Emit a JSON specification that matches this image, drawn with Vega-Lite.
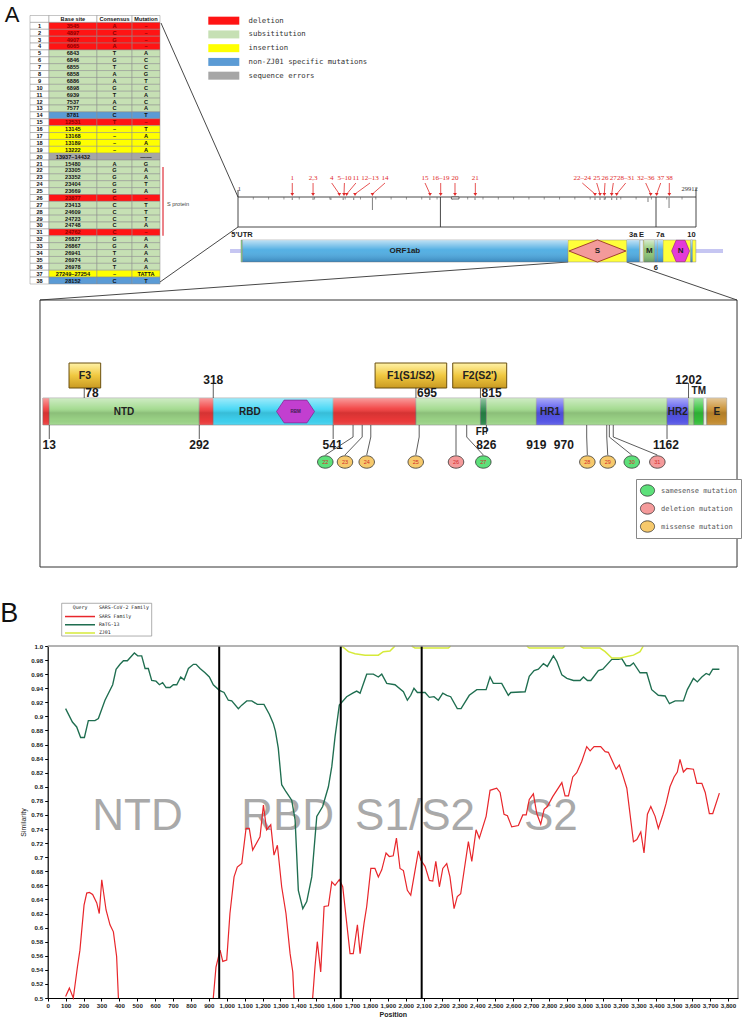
{
"$schema": "https://vega.github.io/schema/vega-lite/v6.json",
"width": 750, "height": 1021, "autosize": {"type": "none"}, "padding": 0, "background": "white",
"config": {"view": {"stroke": null}, "axis": {"grid": false}},
"datasets": {
"tbl": [
{"row":0,"no":"","site":"Base site","cons":"Consensus","mut":"Mutation","kind":"header"},
{"row":1,"no":"1","site":"3545","cons":"A","mut":"–","kind":"deletion"},
{"row":2,"no":"2","site":"4897","cons":"C","mut":"–","kind":"deletion"},
{"row":3,"no":"3","site":"4907","cons":"G","mut":"–","kind":"deletion"},
{"row":4,"no":"4","site":"6065","cons":"A","mut":"–","kind":"deletion"},
{"row":5,"no":"5","site":"6843","cons":"T","mut":"A","kind":"subsititution"},
{"row":6,"no":"6","site":"6846","cons":"G","mut":"C","kind":"subsititution"},
{"row":7,"no":"7","site":"6855","cons":"T","mut":"C","kind":"subsititution"},
{"row":8,"no":"8","site":"6858","cons":"A","mut":"G","kind":"subsititution"},
{"row":9,"no":"9","site":"6886","cons":"A","mut":"T","kind":"subsititution"},
{"row":10,"no":"10","site":"6898","cons":"G","mut":"C","kind":"subsititution"},
{"row":11,"no":"11","site":"6939","cons":"T","mut":"A","kind":"subsititution"},
{"row":12,"no":"12","site":"7537","cons":"A","mut":"C","kind":"subsititution"},
{"row":13,"no":"13","site":"7577","cons":"C","mut":"A","kind":"subsititution"},
{"row":14,"no":"14","site":"8781","cons":"C","mut":"T","kind":"non-ZJ01 specific mutations"},
{"row":15,"no":"15","site":"12531","cons":"T","mut":"–","kind":"deletion"},
{"row":16,"no":"16","site":"13145","cons":"–","mut":"T","kind":"insertion"},
{"row":17,"no":"17","site":"13168","cons":"–","mut":"A","kind":"insertion"},
{"row":18,"no":"18","site":"13189","cons":"–","mut":"A","kind":"insertion"},
{"row":19,"no":"19","site":"13222","cons":"–","mut":"A","kind":"insertion"},
{"row":20,"no":"20","site":"13937–14432","cons":"","mut":"——","kind":"sequence errors"},
{"row":21,"no":"21","site":"15480","cons":"A","mut":"G","kind":"subsititution"},
{"row":22,"no":"22","site":"23305","cons":"G","mut":"A","kind":"subsititution"},
{"row":23,"no":"23","site":"23352","cons":"G","mut":"A","kind":"subsititution"},
{"row":24,"no":"24","site":"23404","cons":"G","mut":"T","kind":"subsititution"},
{"row":25,"no":"25","site":"23669","cons":"G","mut":"A","kind":"subsititution"},
{"row":26,"no":"26","site":"23877","cons":"C","mut":"–","kind":"deletion"},
{"row":27,"no":"27","site":"23413","cons":"C","mut":"T","kind":"subsititution"},
{"row":28,"no":"28","site":"24609","cons":"C","mut":"T","kind":"subsititution"},
{"row":29,"no":"29","site":"24723","cons":"C","mut":"T","kind":"subsititution"},
{"row":30,"no":"30","site":"24748","cons":"C","mut":"A","kind":"subsititution"},
{"row":31,"no":"31","site":"24762","cons":"C","mut":"–","kind":"deletion"},
{"row":32,"no":"32","site":"26827","cons":"G","mut":"A","kind":"subsititution"},
{"row":33,"no":"33","site":"26867","cons":"G","mut":"A","kind":"subsititution"},
{"row":34,"no":"34","site":"26941","cons":"T","mut":"A","kind":"subsititution"},
{"row":35,"no":"35","site":"26974","cons":"G","mut":"A","kind":"subsititution"},
{"row":36,"no":"36","site":"26978","cons":"T","mut":"A","kind":"subsititution"},
{"row":37,"no":"37","site":"27249–27254","cons":"–","mut":"TATTA","kind":"insertion"},
{"row":38,"no":"38","site":"28152","cons":"C","mut":"T","kind":"non-ZJ01 specific mutations"}
],
"legA": [{"kind":"deletion"},{"kind":"subsititution"},{"kind":"insertion"},{"kind":"non-ZJ01 specific mutations"},{"kind":"sequence errors"}],
"gLines": [
{"x":-5029,"y":247,"x2":0,"y2":73},{"x":-5094,"y":-12,"x2":0,"y2":43},
{"x":21563,"y":8,"x2":-12931,"y2":-30},{"x":25384,"y":8,"x2":32590,"y2":-30},
{"x":0,"y":73,"x2":29912,"y2":73},{"x":0,"y":43,"x2":29912,"y2":43},
{"x":0,"y":80,"x2":0,"y2":43},{"x":29912,"y":82,"x2":29912,"y2":43},
{"x":13220,"y":73,"x2":13220,"y2":43},{"x":27300,"y":73,"x2":27300,"y2":43}],
"gTicks": [{"t":1000},{"t":2000},{"t":3000},{"t":4000},{"t":5000},{"t":6000},{"t":7000},{"t":8000},{"t":9000},{"t":10000},{"t":11000},{"t":12000},{"t":13000},{"t":14000},{"t":15000},{"t":16000},{"t":17000},{"t":18000},{"t":19000},{"t":20000},{"t":21000},{"t":22000},{"t":23000},{"t":24000},{"t":25000},{"t":26000},{"t":27000},{"t":28000},{"t":29000}],
"gMarks": [{"x":8781,"lo":60},{"x":28152,"lo":62},{"x":3545,"lo":70},{"x":4902,"lo":70},{"x":6065,"lo":70},{"x":6870,"lo":70},{"x":7557,"lo":70},{"x":12531,"lo":70},{"x":15480,"lo":70},{"x":23316,"lo":70},{"x":23642,"lo":70},{"x":23923,"lo":70},{"x":24406,"lo":70},{"x":24733,"lo":70},{"x":26777,"lo":68}],
"gArr": [{"lab":"1","at":3545,"to":3545},{"lab":"2,3","at":4902,"to":4902},{"lab":"4","at":6120,"to":6616},{"lab":"5–10","at":6950,"to":6923},{"lab":"11","at":7700,"to":7099},{"lab":"12–13","at":8620,"to":7641},{"lab":"14","at":9600,"to":8781},{"lab":"15","at":12213,"to":12540},{"lab":"16–19","at":13238,"to":13238},{"lab":"20","at":14172,"to":14172},{"lab":"21","at":15500,"to":15500},{"lab":"22–24","at":22486,"to":23316},{"lab":"25","at":23427,"to":23642},{"lab":"26","at":23969,"to":23923},{"lab":"27","at":24511,"to":24406},{"lab":"28–31","at":25321,"to":24733},{"lab":"32–36","at":26627,"to":26953},{"lab":"37","at":27606,"to":27345},{"lab":"38","at":28169,"to":28169}],
"gEnds": [{"lab":"1","x":90},{"lab":"29912","x":29500}],
"genes": [
{"gene":"5'UTR","start":196,"end":300,"style":"utr"},
{"gene":"ORF1ab","start":300,"end":21555,"style":"blue"},
{"gene":"S-N region","start":21555,"end":29903,"style":"yellow"},
{"gene":"ORF3a","start":25393,"end":26220,"style":"blue"},
{"gene":"E","start":26245,"end":26472,"style":"white"},
{"gene":"M","start":26523,"end":27191,"style":"green"},
{"gene":"ORF6","start":27202,"end":27387,"style":"blue"},
{"gene":"ORF7a","start":27394,"end":27759,"style":"blue"},
{"gene":"ORF10","start":29558,"end":29674,"style":"blue"}],
"gLabs": [{"lab":"ORF1ab","x":10900,"pos":"in"},{"lab":"S","x":23474,"pos":"in"},{"lab":"M","x":26857,"pos":"in"},{"lab":"N","x":28904,"pos":"in"},{"lab":"5'UTR","x":261,"pos":"above"},{"lab":"3a","x":25806,"pos":"above"},{"lab":"E","x":26358,"pos":"above"},{"lab":"7a","x":27577,"pos":"above"},{"lab":"10","x":29616,"pos":"above"},{"lab":"6","x":27295,"pos":"below"}],
"sReg": [
{"region":"SP","start":1,"end":13},{"region":"NTD","start":13,"end":292},{"region":"L1","start":292,"end":318},{"region":"RBD","start":318,"end":541},{"region":"SD","start":541,"end":695},{"region":"S2a","start":695,"end":815},{"region":"FP","start":815,"end":826},{"region":"S2b","start":826,"end":919},{"region":"HR1","start":919,"end":970},{"region":"CH","start":970,"end":1162},{"region":"HR2","start":1162,"end":1202},{"region":"L2","start":1202,"end":1212},{"region":"TM","start":1212,"end":1230},{"region":"L3","start":1230,"end":1236},{"region":"E","start":1236,"end":1273}],
"sDomLab": [{"lab":"NTD","aa":152},{"lab":"RBD","aa":386},{"lab":"HR1","aa":944.5},{"lab":"HR2","aa":1182},{"lab":"E","aa":1254.5}],
"fBox": [{"name":"F3","start":49.7,"end":108.6,"mid":79.2},{"name":"F1(S1/S2)","start":619,"end":752.2,"mid":685.6},{"name":"F2(S2')","start":763.4,"end":863.8,"mid":813.6}],
"sTicks": [{"aa":78,"dir":"upF"},{"aa":318,"dir":"up"},{"aa":695,"dir":"upF"},{"aa":815,"dir":"upF"},{"aa":1202,"dir":"up"},{"aa":13,"dir":"down"},{"aa":292,"dir":"down"},{"aa":541,"dir":"down"},{"aa":826,"dir":"downS"},{"aa":1162,"dir":"down"}],
"sNums": [{"txt":"318","aa":318,"where":"above"},{"txt":"1202","aa":1202,"where":"above"},{"txt":"78","aa":80,"where":"aboveLeft"},{"txt":"695","aa":697,"where":"aboveLeft"},{"txt":"815","aa":817,"where":"aboveLeft"},{"txt":"13","aa":13,"where":"below"},{"txt":"292","aa":292,"where":"below"},{"txt":"541","aa":540,"where":"below"},{"txt":"826","aa":826,"where":"below"},{"txt":"919","aa":919,"where":"below"},{"txt":"970","aa":970,"where":"below"},{"txt":"1162","aa":1160,"where":"below"}],
"sMut": [{"id":"22","site":578,"circ":526.4,"type":"samesense mutation"},{"id":"23","site":595,"circ":563,"type":"missense mutation"},{"id":"24","site":611,"circ":603.4,"type":"missense mutation"},{"id":"25","site":701,"circ":694.6,"type":"missense mutation"},{"id":"26","site":769.5,"circ":769.5,"type":"deletion mutation"},{"id":"27","site":789.4,"circ":820.3,"type":"samesense mutation"},{"id":"28","site":1012.6,"circ":1013.8,"type":"missense mutation"},{"id":"29","site":1049.9,"circ":1051.7,"type":"missense mutation"},{"id":"30","site":1054.7,"circ":1096.4,"type":"samesense mutation"},{"id":"31","site":1062,"circ":1144,"type":"deletion mutation"}],
"bLabs": [{"lab":"NTD","pos":502},{"lab":"RBD","pos":1340},{"lab":"S1/S2","pos":2052},{"lab":"S2","pos":2811}],
"bDiv": [{"pos":958},{"pos":1637},{"pos":2089}],
"bLeg": [{"series":"SARS Family","k":1},{"series":"RaTG-13","k":2},{"series":"ZJ01","k":3}],
"simB": [
{"series":"RaTG-13","seg":"g","pos":100,"sim":0.911},{"series":"RaTG-13","seg":"g","pos":138,"sim":0.892},{"series":"RaTG-13","seg":"g","pos":162,"sim":0.885},{"series":"RaTG-13","seg":"g","pos":184,"sim":0.870},{"series":"RaTG-13","seg":"g","pos":205,"sim":0.870},{"series":"RaTG-13","seg":"g","pos":227,"sim":0.894},{"series":"RaTG-13","seg":"g","pos":264,"sim":0.894},{"series":"RaTG-13","seg":"g","pos":283,"sim":0.897},{"series":"RaTG-13","seg":"g","pos":320,"sim":0.923},{"series":"RaTG-13","seg":"g","pos":363,"sim":0.945},{"series":"RaTG-13","seg":"g","pos":382,"sim":0.967},{"series":"RaTG-13","seg":"g","pos":404,"sim":0.974},{"series":"RaTG-13","seg":"g","pos":423,"sim":0.979},{"series":"RaTG-13","seg":"g","pos":445,"sim":0.979},{"series":"RaTG-13","seg":"g","pos":484,"sim":0.990},{"series":"RaTG-13","seg":"g","pos":503,"sim":0.986},{"series":"RaTG-13","seg":"g","pos":525,"sim":0.986},{"series":"RaTG-13","seg":"g","pos":544,"sim":0.968},{"series":"RaTG-13","seg":"g","pos":562,"sim":0.968},{"series":"RaTG-13","seg":"g","pos":581,"sim":0.951},{"series":"RaTG-13","seg":"g","pos":605,"sim":0.950},{"series":"RaTG-13","seg":"g","pos":624,"sim":0.945},{"series":"RaTG-13","seg":"g","pos":642,"sim":0.948},{"series":"RaTG-13","seg":"g","pos":661,"sim":0.941},{"series":"RaTG-13","seg":"g","pos":683,"sim":0.941},{"series":"RaTG-13","seg":"g","pos":702,"sim":0.945},{"series":"RaTG-13","seg":"g","pos":721,"sim":0.945},{"series":"RaTG-13","seg":"g","pos":743,"sim":0.956},{"series":"RaTG-13","seg":"g","pos":762,"sim":0.952},{"series":"RaTG-13","seg":"g","pos":786,"sim":0.968},{"series":"RaTG-13","seg":"g","pos":814,"sim":0.974},{"series":"RaTG-13","seg":"g","pos":829,"sim":0.974},{"series":"RaTG-13","seg":"g","pos":851,"sim":0.968},{"series":"RaTG-13","seg":"g","pos":879,"sim":0.962},{"series":"RaTG-13","seg":"g","pos":903,"sim":0.956},{"series":"RaTG-13","seg":"g","pos":925,"sim":0.945},{"series":"RaTG-13","seg":"g","pos":959,"sim":0.937},{"series":"RaTG-13","seg":"g","pos":985,"sim":0.934},{"series":"RaTG-13","seg":"g","pos":1009,"sim":0.923},{"series":"RaTG-13","seg":"g","pos":1028,"sim":0.922},{"series":"RaTG-13","seg":"g","pos":1065,"sim":0.911},{"series":"RaTG-13","seg":"g","pos":1084,"sim":0.916},{"series":"RaTG-13","seg":"g","pos":1112,"sim":0.922},{"series":"RaTG-13","seg":"g","pos":1140,"sim":0.922},{"series":"RaTG-13","seg":"g","pos":1171,"sim":0.917},{"series":"RaTG-13","seg":"g","pos":1208,"sim":0.917},{"series":"RaTG-13","seg":"g","pos":1238,"sim":0.903},{"series":"RaTG-13","seg":"g","pos":1260,"sim":0.890},{"series":"RaTG-13","seg":"g","pos":1272,"sim":0.879},{"series":"RaTG-13","seg":"g","pos":1288,"sim":0.855},{"series":"RaTG-13","seg":"g","pos":1307,"sim":0.803},{"series":"RaTG-13","seg":"g","pos":1331,"sim":0.793},{"series":"RaTG-13","seg":"g","pos":1363,"sim":0.781},{"series":"RaTG-13","seg":"g","pos":1382,"sim":0.753},{"series":"RaTG-13","seg":"g","pos":1400,"sim":0.653},{"series":"RaTG-13","seg":"g","pos":1425,"sim":0.627},{"series":"RaTG-13","seg":"g","pos":1447,"sim":0.637},{"series":"RaTG-13","seg":"g","pos":1475,"sim":0.672},{"series":"RaTG-13","seg":"g","pos":1503,"sim":0.758},{"series":"RaTG-13","seg":"g","pos":1536,"sim":0.772},{"series":"RaTG-13","seg":"g","pos":1568,"sim":0.800},{"series":"RaTG-13","seg":"g","pos":1587,"sim":0.829},{"series":"RaTG-13","seg":"g","pos":1605,"sim":0.871},{"series":"RaTG-13","seg":"g","pos":1629,"sim":0.916},{"series":"RaTG-13","seg":"g","pos":1670,"sim":0.928},{"series":"RaTG-13","seg":"g","pos":1704,"sim":0.933},{"series":"RaTG-13","seg":"g","pos":1726,"sim":0.936},{"series":"RaTG-13","seg":"g","pos":1745,"sim":0.933},{"series":"RaTG-13","seg":"g","pos":1782,"sim":0.960},{"series":"RaTG-13","seg":"g","pos":1819,"sim":0.960},{"series":"RaTG-13","seg":"g","pos":1847,"sim":0.956},{"series":"RaTG-13","seg":"g","pos":1866,"sim":0.960},{"series":"RaTG-13","seg":"g","pos":1894,"sim":0.947},{"series":"RaTG-13","seg":"g","pos":1940,"sim":0.945},{"series":"RaTG-13","seg":"g","pos":1987,"sim":0.935},{"series":"RaTG-13","seg":"g","pos":2009,"sim":0.923},{"series":"RaTG-13","seg":"g","pos":2028,"sim":0.930},{"series":"RaTG-13","seg":"g","pos":2046,"sim":0.940},{"series":"RaTG-13","seg":"g","pos":2065,"sim":0.934},{"series":"RaTG-13","seg":"g","pos":2108,"sim":0.934},{"series":"RaTG-13","seg":"g","pos":2132,"sim":0.927},{"series":"RaTG-13","seg":"g","pos":2158,"sim":0.928},{"series":"RaTG-13","seg":"g","pos":2182,"sim":0.923},{"series":"RaTG-13","seg":"g","pos":2207,"sim":0.933},{"series":"RaTG-13","seg":"g","pos":2229,"sim":0.930},{"series":"RaTG-13","seg":"g","pos":2251,"sim":0.928},{"series":"RaTG-13","seg":"g","pos":2288,"sim":0.911},{"series":"RaTG-13","seg":"g","pos":2309,"sim":0.911},{"series":"RaTG-13","seg":"g","pos":2355,"sim":0.930},{"series":"RaTG-13","seg":"g","pos":2397,"sim":0.938},{"series":"RaTG-13","seg":"g","pos":2449,"sim":0.938},{"series":"RaTG-13","seg":"g","pos":2471,"sim":0.956},{"series":"RaTG-13","seg":"g","pos":2489,"sim":0.947},{"series":"RaTG-13","seg":"g","pos":2536,"sim":0.947},{"series":"RaTG-13","seg":"g","pos":2573,"sim":0.930},{"series":"RaTG-13","seg":"g","pos":2587,"sim":0.934},{"series":"RaTG-13","seg":"g","pos":2667,"sim":0.935},{"series":"RaTG-13","seg":"g","pos":2690,"sim":0.957},{"series":"RaTG-13","seg":"g","pos":2717,"sim":0.965},{"series":"RaTG-13","seg":"g","pos":2741,"sim":0.967},{"series":"RaTG-13","seg":"g","pos":2769,"sim":0.975},{"series":"RaTG-13","seg":"g","pos":2791,"sim":0.971},{"series":"RaTG-13","seg":"g","pos":2825,"sim":0.986},{"series":"RaTG-13","seg":"g","pos":2844,"sim":0.978},{"series":"RaTG-13","seg":"g","pos":2872,"sim":0.959},{"series":"RaTG-13","seg":"g","pos":2900,"sim":0.954},{"series":"RaTG-13","seg":"g","pos":2937,"sim":0.951},{"series":"RaTG-13","seg":"g","pos":2974,"sim":0.951},{"series":"RaTG-13","seg":"g","pos":2993,"sim":0.956},{"series":"RaTG-13","seg":"g","pos":3015,"sim":0.951},{"series":"RaTG-13","seg":"g","pos":3034,"sim":0.951},{"series":"RaTG-13","seg":"g","pos":3076,"sim":0.965},{"series":"RaTG-13","seg":"g","pos":3101,"sim":0.967},{"series":"RaTG-13","seg":"g","pos":3151,"sim":0.981},{"series":"RaTG-13","seg":"g","pos":3188,"sim":0.981},{"series":"RaTG-13","seg":"g","pos":3207,"sim":0.982},{"series":"RaTG-13","seg":"g","pos":3231,"sim":0.972},{"series":"RaTG-13","seg":"g","pos":3253,"sim":0.972},{"series":"RaTG-13","seg":"g","pos":3272,"sim":0.976},{"series":"RaTG-13","seg":"g","pos":3309,"sim":0.962},{"series":"RaTG-13","seg":"g","pos":3346,"sim":0.962},{"series":"RaTG-13","seg":"g","pos":3374,"sim":0.938},{"series":"RaTG-13","seg":"g","pos":3411,"sim":0.930},{"series":"RaTG-13","seg":"g","pos":3449,"sim":0.929},{"series":"RaTG-13","seg":"g","pos":3473,"sim":0.918},{"series":"RaTG-13","seg":"g","pos":3505,"sim":0.922},{"series":"RaTG-13","seg":"g","pos":3551,"sim":0.922},{"series":"RaTG-13","seg":"g","pos":3573,"sim":0.938},{"series":"RaTG-13","seg":"g","pos":3607,"sim":0.954},{"series":"RaTG-13","seg":"g","pos":3629,"sim":0.949},{"series":"RaTG-13","seg":"g","pos":3654,"sim":0.956},{"series":"RaTG-13","seg":"g","pos":3678,"sim":0.961},{"series":"RaTG-13","seg":"g","pos":3696,"sim":0.959},{"series":"RaTG-13","seg":"g","pos":3715,"sim":0.967},{"series":"RaTG-13","seg":"g","pos":3752,"sim":0.967},
{"series":"SARS Family","seg":"r1","pos":100,"sim":0.502},{"series":"SARS Family","seg":"r1","pos":121,"sim":0.514},{"series":"SARS Family","seg":"r1","pos":143,"sim":0.5},{"series":"SARS Family","seg":"r1","pos":166,"sim":0.544},{"series":"SARS Family","seg":"r1","pos":180,"sim":0.568},{"series":"SARS Family","seg":"r1","pos":203,"sim":0.632},{"series":"SARS Family","seg":"r1","pos":218,"sim":0.649},{"series":"SARS Family","seg":"r1","pos":233,"sim":0.650},{"series":"SARS Family","seg":"r1","pos":251,"sim":0.647},{"series":"SARS Family","seg":"r1","pos":274,"sim":0.635},{"series":"SARS Family","seg":"r1","pos":288,"sim":0.620},{"series":"SARS Family","seg":"r1","pos":302,"sim":0.668},{"series":"SARS Family","seg":"r1","pos":326,"sim":0.625},{"series":"SARS Family","seg":"r1","pos":348,"sim":0.604},{"series":"SARS Family","seg":"r1","pos":367,"sim":0.594},{"series":"SARS Family","seg":"r1","pos":385,"sim":0.559},{"series":"SARS Family","seg":"r1","pos":395,"sim":0.5},
{"series":"SARS Family","seg":"r2","pos":925,"sim":0.5},{"series":"SARS Family","seg":"r2","pos":940,"sim":0.544},{"series":"SARS Family","seg":"r2","pos":963,"sim":0.568},{"series":"SARS Family","seg":"r2","pos":978,"sim":0.552},{"series":"SARS Family","seg":"r2","pos":1000,"sim":0.554},{"series":"SARS Family","seg":"r2","pos":1018,"sim":0.620},{"series":"SARS Family","seg":"r2","pos":1041,"sim":0.672},{"series":"SARS Family","seg":"r2","pos":1059,"sim":0.686},{"series":"SARS Family","seg":"r2","pos":1084,"sim":0.691},{"series":"SARS Family","seg":"r2","pos":1108,"sim":0.741},{"series":"SARS Family","seg":"r2","pos":1126,"sim":0.741},{"series":"SARS Family","seg":"r2","pos":1145,"sim":0.710},{"series":"SARS Family","seg":"r2","pos":1186,"sim":0.729},{"series":"SARS Family","seg":"r2","pos":1205,"sim":0.774},{"series":"SARS Family","seg":"r2","pos":1223,"sim":0.739},{"series":"SARS Family","seg":"r2","pos":1246,"sim":0.746},{"series":"SARS Family","seg":"r2","pos":1264,"sim":0.703},{"series":"SARS Family","seg":"r2","pos":1283,"sim":0.717},{"series":"SARS Family","seg":"r2","pos":1307,"sim":0.658},{"series":"SARS Family","seg":"r2","pos":1331,"sim":0.620},{"series":"SARS Family","seg":"r2","pos":1354,"sim":0.563},{"series":"SARS Family","seg":"r2","pos":1369,"sim":0.537},{"series":"SARS Family","seg":"r2","pos":1376,"sim":0.5},
{"series":"SARS Family","seg":"r3","pos":1480,"sim":0.5},{"series":"SARS Family","seg":"r3","pos":1493,"sim":0.544},{"series":"SARS Family","seg":"r3","pos":1506,"sim":0.580},{"series":"SARS Family","seg":"r3","pos":1525,"sim":0.537},{"series":"SARS Family","seg":"r3","pos":1544,"sim":0.630},{"series":"SARS Family","seg":"r3","pos":1568,"sim":0.631},{"series":"SARS Family","seg":"r3","pos":1587,"sim":0.665},{"series":"SARS Family","seg":"r3","pos":1605,"sim":0.660},{"series":"SARS Family","seg":"r3","pos":1629,"sim":0.668},{"series":"SARS Family","seg":"r3","pos":1648,"sim":0.658},{"series":"SARS Family","seg":"r3","pos":1689,"sim":0.563},{"series":"SARS Family","seg":"r3","pos":1707,"sim":0.563},{"series":"SARS Family","seg":"r3","pos":1730,"sim":0.604},{"series":"SARS Family","seg":"r3","pos":1745,"sim":0.563},{"series":"SARS Family","seg":"r3","pos":1767,"sim":0.606},{"series":"SARS Family","seg":"r3","pos":1782,"sim":0.630},{"series":"SARS Family","seg":"r3","pos":1805,"sim":0.684},{"series":"SARS Family","seg":"r3","pos":1828,"sim":0.684},{"series":"SARS Family","seg":"r3","pos":1847,"sim":0.672},{"series":"SARS Family","seg":"r3","pos":1866,"sim":0.682},{"series":"SARS Family","seg":"r3","pos":1890,"sim":0.706},{"series":"SARS Family","seg":"r3","pos":1908,"sim":0.701},{"series":"SARS Family","seg":"r3","pos":1930,"sim":0.702},{"series":"SARS Family","seg":"r3","pos":1948,"sim":0.727},{"series":"SARS Family","seg":"r3","pos":1968,"sim":0.684},{"series":"SARS Family","seg":"r3","pos":1987,"sim":0.681},{"series":"SARS Family","seg":"r3","pos":2009,"sim":0.653},{"series":"SARS Family","seg":"r3","pos":2028,"sim":0.646},{"series":"SARS Family","seg":"r3","pos":2071,"sim":0.709},{"series":"SARS Family","seg":"r3","pos":2084,"sim":0.696},{"series":"SARS Family","seg":"r3","pos":2108,"sim":0.687},{"series":"SARS Family","seg":"r3","pos":2132,"sim":0.667},{"series":"SARS Family","seg":"r3","pos":2151,"sim":0.666},{"series":"SARS Family","seg":"r3","pos":2168,"sim":0.694},{"series":"SARS Family","seg":"r3","pos":2188,"sim":0.658},{"series":"SARS Family","seg":"r3","pos":2207,"sim":0.684},{"series":"SARS Family","seg":"r3","pos":2229,"sim":0.691},{"series":"SARS Family","seg":"r3","pos":2247,"sim":0.672},{"series":"SARS Family","seg":"r3","pos":2270,"sim":0.627},{"series":"SARS Family","seg":"r3","pos":2288,"sim":0.644},{"series":"SARS Family","seg":"r3","pos":2307,"sim":0.648},{"series":"SARS Family","seg":"r3","pos":2350,"sim":0.722},{"series":"SARS Family","seg":"r3","pos":2369,"sim":0.694},{"series":"SARS Family","seg":"r3","pos":2393,"sim":0.739},{"series":"SARS Family","seg":"r3","pos":2411,"sim":0.727},{"series":"SARS Family","seg":"r3","pos":2449,"sim":0.758},{"series":"SARS Family","seg":"r3","pos":2471,"sim":0.795},{"series":"SARS Family","seg":"r3","pos":2508,"sim":0.798},{"series":"SARS Family","seg":"r3","pos":2527,"sim":0.792},{"series":"SARS Family","seg":"r3","pos":2549,"sim":0.761},{"series":"SARS Family","seg":"r3","pos":2568,"sim":0.759},{"series":"SARS Family","seg":"r3","pos":2592,"sim":0.743},{"series":"SARS Family","seg":"r3","pos":2629,"sim":0.745},{"series":"SARS Family","seg":"r3","pos":2654,"sim":0.760},{"series":"SARS Family","seg":"r3","pos":2673,"sim":0.760},{"series":"SARS Family","seg":"r3","pos":2690,"sim":0.782},{"series":"SARS Family","seg":"r3","pos":2713,"sim":0.790},{"series":"SARS Family","seg":"r3","pos":2732,"sim":0.762},{"series":"SARS Family","seg":"r3","pos":2754,"sim":0.747},{"series":"SARS Family","seg":"r3","pos":2773,"sim":0.768},{"series":"SARS Family","seg":"r3","pos":2791,"sim":0.772},{"series":"SARS Family","seg":"r3","pos":2821,"sim":0.786},{"series":"SARS Family","seg":"r3","pos":2872,"sim":0.806},{"series":"SARS Family","seg":"r3","pos":2890,"sim":0.787},{"series":"SARS Family","seg":"r3","pos":2909,"sim":0.787},{"series":"SARS Family","seg":"r3","pos":2933,"sim":0.814},{"series":"SARS Family","seg":"r3","pos":2955,"sim":0.820},{"series":"SARS Family","seg":"r3","pos":2983,"sim":0.836},{"series":"SARS Family","seg":"r3","pos":3011,"sim":0.857},{"series":"SARS Family","seg":"r3","pos":3030,"sim":0.851},{"series":"SARS Family","seg":"r3","pos":3052,"sim":0.857},{"series":"SARS Family","seg":"r3","pos":3089,"sim":0.857},{"series":"SARS Family","seg":"r3","pos":3114,"sim":0.850},{"series":"SARS Family","seg":"r3","pos":3132,"sim":0.849},{"series":"SARS Family","seg":"r3","pos":3175,"sim":0.825},{"series":"SARS Family","seg":"r3","pos":3193,"sim":0.831},{"series":"SARS Family","seg":"r3","pos":3212,"sim":0.817},{"series":"SARS Family","seg":"r3","pos":3235,"sim":0.798},{"series":"SARS Family","seg":"r3","pos":3272,"sim":0.722},{"series":"SARS Family","seg":"r3","pos":3291,"sim":0.725},{"series":"SARS Family","seg":"r3","pos":3313,"sim":0.736},{"series":"SARS Family","seg":"r3","pos":3331,"sim":0.706},{"series":"SARS Family","seg":"r3","pos":3350,"sim":0.761},{"series":"SARS Family","seg":"r3","pos":3369,"sim":0.772},{"series":"SARS Family","seg":"r3","pos":3393,"sim":0.758},{"series":"SARS Family","seg":"r3","pos":3411,"sim":0.741},{"series":"SARS Family","seg":"r3","pos":3436,"sim":0.760},{"series":"SARS Family","seg":"r3","pos":3454,"sim":0.776},{"series":"SARS Family","seg":"r3","pos":3476,"sim":0.800},{"series":"SARS Family","seg":"r3","pos":3499,"sim":0.814},{"series":"SARS Family","seg":"r3","pos":3517,"sim":0.821},{"series":"SARS Family","seg":"r3","pos":3532,"sim":0.839},{"series":"SARS Family","seg":"r3","pos":3551,"sim":0.821},{"series":"SARS Family","seg":"r3","pos":3570,"sim":0.826},{"series":"SARS Family","seg":"r3","pos":3607,"sim":0.825},{"series":"SARS Family","seg":"r3","pos":3626,"sim":0.805},{"series":"SARS Family","seg":"r3","pos":3654,"sim":0.805},{"series":"SARS Family","seg":"r3","pos":3673,"sim":0.792},{"series":"SARS Family","seg":"r3","pos":3696,"sim":0.762},{"series":"SARS Family","seg":"r3","pos":3715,"sim":0.762},{"series":"SARS Family","seg":"r3","pos":3752,"sim":0.791},
{"series":"ZJ01","seg":"y1","pos":1642,"sim":1.0},{"series":"ZJ01","seg":"y1","pos":1680,"sim":0.992},{"series":"ZJ01","seg":"y1","pos":1717,"sim":0.989},{"series":"ZJ01","seg":"y1","pos":1773,"sim":0.987},{"series":"ZJ01","seg":"y1","pos":1847,"sim":0.987},{"series":"ZJ01","seg":"y1","pos":1875,"sim":0.992},{"series":"ZJ01","seg":"y1","pos":1912,"sim":0.993},{"series":"ZJ01","seg":"y1","pos":1940,"sim":1.0},
{"series":"ZJ01","seg":"y2","pos":2033,"sim":1.0},{"series":"ZJ01","seg":"y2","pos":2052,"sim":0.997},{"series":"ZJ01","seg":"y2","pos":2238,"sim":0.997},{"series":"ZJ01","seg":"y2","pos":2251,"sim":1.0},
{"series":"ZJ01","seg":"y3","pos":2676,"sim":1.0},{"series":"ZJ01","seg":"y3","pos":2690,"sim":0.997},{"series":"ZJ01","seg":"y3","pos":2877,"sim":0.997},{"series":"ZJ01","seg":"y3","pos":2890,"sim":1.0},
{"series":"ZJ01","seg":"y4","pos":2974,"sim":1.0},{"series":"ZJ01","seg":"y4","pos":2993,"sim":0.997},{"series":"ZJ01","seg":"y4","pos":3085,"sim":0.997},{"series":"ZJ01","seg":"y4","pos":3114,"sim":0.992},{"series":"ZJ01","seg":"y4","pos":3151,"sim":0.983},{"series":"ZJ01","seg":"y4","pos":3197,"sim":0.983},{"series":"ZJ01","seg":"y4","pos":3272,"sim":0.987},{"series":"ZJ01","seg":"y4","pos":3309,"sim":0.992},{"series":"ZJ01","seg":"y4","pos":3327,"sim":1.0}
]
},
"layer": [
{
"data": {"name": "tbl"},
"layer": [
{"mark": {"type": "rect", "fill": "#ffffff", "stroke": "#8c8c8c", "strokeWidth": 0.5},
 "encoding": {"x": {"datum": 0, "type": "quantitative", "scale": {"domain": [0,10], "range": [30,160]}, "axis": null}, "x2": {"datum": 1.46},
  "y": {"field": "row", "type": "ordinal", "scale": {"domain": [0,1,2,3,4,5,6,7,8,9,10,11,12,13,14,15,16,17,18,19,20,21,22,23,24,25,26,27,28,29,30,31,32,33,34,35,36,37,38], "range": [15.5,284], "paddingInner": 0, "paddingOuter": 0}, "axis": null}}},
{"mark": {"type": "rect", "stroke": "#8c8c8c", "strokeWidth": 0.5},
 "encoding": {"x": {"datum": 1.46, "type": "quantitative", "scale": {"domain": [0,10], "range": [30,160]}, "axis": null}, "x2": {"datum": 5.15},
  "y": {"field": "row", "type": "ordinal", "scale": {"domain": [0,1,2,3,4,5,6,7,8,9,10,11,12,13,14,15,16,17,18,19,20,21,22,23,24,25,26,27,28,29,30,31,32,33,34,35,36,37,38], "range": [15.5,284], "paddingInner": 0, "paddingOuter": 0}, "axis": null},
  "fill": {"field": "kind", "type": "nominal", "scale": {"domain": ["header","deletion","subsititution","insertion","non-ZJ01 specific mutations","sequence errors"], "range": ["#ffffff","#ff1414","#c6e0b4","#ffff00","#5b9bd5","#a6a6a6"]}, "legend": null}}},
{"mark": {"type": "rect", "stroke": "#8c8c8c", "strokeWidth": 0.5},
 "encoding": {"x": {"datum": 5.15, "type": "quantitative", "scale": {"domain": [0,10], "range": [30,160]}, "axis": null}, "x2": {"datum": 7.85},
  "y": {"field": "row", "type": "ordinal", "scale": {"domain": [0,1,2,3,4,5,6,7,8,9,10,11,12,13,14,15,16,17,18,19,20,21,22,23,24,25,26,27,28,29,30,31,32,33,34,35,36,37,38], "range": [15.5,284], "paddingInner": 0, "paddingOuter": 0}, "axis": null},
  "fill": {"field": "kind", "type": "nominal", "scale": {"domain": ["header","deletion","subsititution","insertion","non-ZJ01 specific mutations","sequence errors"], "range": ["#ffffff","#ff1414","#c6e0b4","#ffff00","#5b9bd5","#a6a6a6"]}, "legend": null}}},
{"mark": {"type": "rect", "stroke": "#8c8c8c", "strokeWidth": 0.5},
 "encoding": {"x": {"datum": 7.85, "type": "quantitative", "scale": {"domain": [0,10], "range": [30,160]}, "axis": null}, "x2": {"datum": 10},
  "y": {"field": "row", "type": "ordinal", "scale": {"domain": [0,1,2,3,4,5,6,7,8,9,10,11,12,13,14,15,16,17,18,19,20,21,22,23,24,25,26,27,28,29,30,31,32,33,34,35,36,37,38], "range": [15.5,284], "paddingInner": 0, "paddingOuter": 0}, "axis": null},
  "fill": {"field": "kind", "type": "nominal", "scale": {"domain": ["header","deletion","subsititution","insertion","non-ZJ01 specific mutations","sequence errors"], "range": ["#ffffff","#ff1414","#c6e0b4","#ffff00","#5b9bd5","#a6a6a6"]}, "legend": null}}},
{"mark": {"type": "text", "fontSize": 5.6, "fontWeight": "bold", "font": "Liberation Sans", "baseline": "middle", "align": "center", "color": "#111111"},
 "encoding": {"x": {"datum": 0.73, "type": "quantitative", "scale": {"domain": [0,10], "range": [30,160]}, "axis": null},
  "y": {"field": "row", "type": "ordinal", "scale": {"domain": [0,1,2,3,4,5,6,7,8,9,10,11,12,13,14,15,16,17,18,19,20,21,22,23,24,25,26,27,28,29,30,31,32,33,34,35,36,37,38], "range": [15.5,284], "paddingInner": 0, "paddingOuter": 0}, "axis": null},
  "text": {"field": "no", "type": "nominal"}}},
{"mark": {"type": "text", "fontSize": 5.6, "fontWeight": "bold", "font": "Liberation Sans", "baseline": "middle", "align": "center"},
 "encoding": {"x": {"datum": 3.3, "type": "quantitative", "scale": {"domain": [0,10], "range": [30,160]}, "axis": null},
  "y": {"field": "row", "type": "ordinal", "scale": {"domain": [0,1,2,3,4,5,6,7,8,9,10,11,12,13,14,15,16,17,18,19,20,21,22,23,24,25,26,27,28,29,30,31,32,33,34,35,36,37,38], "range": [15.5,284], "paddingInner": 0, "paddingOuter": 0}, "axis": null},
  "text": {"field": "site", "type": "nominal"}, "color": {"condition": {"test": "datum.kind === 'deletion'", "value": "#8b0000"}, "value": "#111111"}}},
{"mark": {"type": "text", "fontSize": 5.6, "fontWeight": "bold", "font": "Liberation Sans", "baseline": "middle", "align": "center"},
 "encoding": {"x": {"datum": 6.5, "type": "quantitative", "scale": {"domain": [0,10], "range": [30,160]}, "axis": null},
  "y": {"field": "row", "type": "ordinal", "scale": {"domain": [0,1,2,3,4,5,6,7,8,9,10,11,12,13,14,15,16,17,18,19,20,21,22,23,24,25,26,27,28,29,30,31,32,33,34,35,36,37,38], "range": [15.5,284], "paddingInner": 0, "paddingOuter": 0}, "axis": null},
  "text": {"field": "cons", "type": "nominal"}, "color": {"condition": {"test": "datum.kind === 'deletion'", "value": "#8b0000"}, "value": "#111111"}}},
{"mark": {"type": "text", "fontSize": 5.6, "fontWeight": "bold", "font": "Liberation Sans", "baseline": "middle", "align": "center"},
 "encoding": {"x": {"datum": 8.92, "type": "quantitative", "scale": {"domain": [0,10], "range": [30,160]}, "axis": null},
  "y": {"field": "row", "type": "ordinal", "scale": {"domain": [0,1,2,3,4,5,6,7,8,9,10,11,12,13,14,15,16,17,18,19,20,21,22,23,24,25,26,27,28,29,30,31,32,33,34,35,36,37,38], "range": [15.5,284], "paddingInner": 0, "paddingOuter": 0}, "axis": null},
  "text": {"field": "mut", "type": "nominal"}, "color": {"condition": {"test": "datum.kind === 'deletion'", "value": "#8b0000"}, "value": "#111111"}}}
]
},
{
"data": {"name": "legA"},
"layer": [
{"mark": {"type": "rect"},
 "encoding": {"x": {"datum": 0, "type": "quantitative", "scale": {"domain": [0,1], "range": [208.3,239.3]}, "axis": null}, "x2": {"datum": 1},
  "y": {"field": "kind", "type": "nominal", "sort": null, "scale": {"domain": ["deletion","subsititution","insertion","non-ZJ01 specific mutations","sequence errors"], "range": [13.8,82.55], "paddingInner": 0.418, "paddingOuter": 0.209}, "axis": null},
  "fill": {"field": "kind", "type": "nominal", "scale": {"domain": ["deletion","subsititution","insertion","non-ZJ01 specific mutations","sequence errors"], "range": ["#ff1414","#c6e0b4","#ffff00","#5b9bd5","#a6a6a6"]}, "legend": null}}},
{"mark": {"type": "text", "align": "left", "baseline": "middle", "font": "DejaVu Sans Mono", "fontSize": 7.3, "color": "#333333"},
 "encoding": {"x": {"datum": 1.3, "type": "quantitative", "scale": {"domain": [0,1], "range": [208.3,239.3]}, "axis": null},
  "y": {"field": "kind", "type": "nominal", "sort": null, "scale": {"domain": ["deletion","subsititution","insertion","non-ZJ01 specific mutations","sequence errors"], "range": [13.8,82.55], "paddingInner": 0.418, "paddingOuter": 0.209}, "axis": null},
  "text": {"field": "kind", "type": "nominal"}}}
]
},
{
"layer": [
{"data": {"name": "gLines"}, "mark": {"type": "rule", "color": "#333333", "strokeWidth": 0.9},
 "encoding": {"x": {"field": "x", "type": "quantitative", "scale": {"domain": [0,29912], "range": [238,696]}, "axis": null}, "x2": {"field": "x2"},
  "y": {"field": "y", "type": "quantitative", "scale": {"domain": [0,100], "range": [270,170]}, "axis": null}, "y2": {"field": "y2"}}},
{"data": {"values": [{"x":-4898}]}, "mark": {"type": "rule", "color": "#e0303a", "strokeWidth": 1.2},
 "encoding": {"x": {"field": "x", "type": "quantitative", "scale": {"domain": [0,29912], "range": [238,696]}, "axis": null},
  "y": {"datum": 103, "type": "quantitative", "scale": {"domain": [0,100], "range": [270,170]}, "axis": null}, "y2": {"datum": 34.3}}},
{"data": {"values": [{"x":-4637}]}, "mark": {"type": "text", "text": "S protein", "fontSize": 5.5, "font": "Liberation Sans", "align": "left", "baseline": "middle", "color": "#444444"},
 "encoding": {"x": {"field": "x", "type": "quantitative", "scale": {"domain": [0,29912], "range": [238,696]}, "axis": null},
  "y": {"datum": 66, "type": "quantitative", "scale": {"domain": [0,100], "range": [270,170]}, "axis": null}}},
{"data": {"name": "gTicks"}, "mark": {"type": "rule", "color": "#555555", "strokeWidth": 0.6},
 "encoding": {"x": {"field": "t", "type": "quantitative", "scale": {"domain": [0,29912], "range": [238,696]}, "axis": null},
  "y": {"datum": 73, "type": "quantitative", "scale": {"domain": [0,100], "range": [270,170]}, "axis": null}, "y2": {"datum": 70.5}}},
{"data": {"name": "gMarks"}, "mark": {"type": "rule", "color": "#8a8a8a", "strokeWidth": 1.1},
 "encoding": {"x": {"field": "x", "type": "quantitative", "scale": {"domain": [0,29912], "range": [238,696]}, "axis": null},
  "y": {"field": "lo", "type": "quantitative", "scale": {"domain": [0,100], "range": [270,170]}, "axis": null}, "y2": {"datum": 73}}},
{"data": {"values": [{"a":13937,"b":14432}]}, "mark": {"type": "rect", "fill": "#ffffff", "stroke": "#333333", "strokeWidth": 0.7},
 "encoding": {"x": {"field": "a", "type": "quantitative", "scale": {"domain": [0,29912], "range": [238,696]}, "axis": null}, "x2": {"field": "b"},
  "y": {"datum": 73, "type": "quantitative", "scale": {"domain": [0,100], "range": [270,170]}, "axis": null}, "y2": {"datum": 71}}},
{"data": {"name": "gArr"}, "mark": {"type": "rule", "color": "#e02828", "strokeWidth": 0.8},
 "encoding": {"x": {"field": "at", "type": "quantitative", "scale": {"domain": [0,29912], "range": [238,696]}, "axis": null}, "x2": {"field": "to"},
  "y": {"datum": 87, "type": "quantitative", "scale": {"domain": [0,100], "range": [270,170]}, "axis": null}, "y2": {"datum": 76}}},
{"data": {"name": "gArr"}, "mark": {"type": "point", "shape": "triangle-down", "size": 14, "filled": true, "color": "#e02828", "opacity": 1},
 "encoding": {"x": {"field": "to", "type": "quantitative", "scale": {"domain": [0,29912], "range": [238,696]}, "axis": null},
  "y": {"datum": 75.5, "type": "quantitative", "scale": {"domain": [0,100], "range": [270,170]}, "axis": null}}},
{"data": {"name": "gArr"}, "mark": {"type": "text", "font": "Liberation Serif", "fontSize": 7, "color": "#e02828", "baseline": "middle", "align": "center"},
 "encoding": {"x": {"field": "at", "type": "quantitative", "scale": {"domain": [0,29912], "range": [238,696]}, "axis": null},
  "y": {"datum": 92, "type": "quantitative", "scale": {"domain": [0,100], "range": [270,170]}, "axis": null}, "text": {"field": "lab", "type": "nominal"}}},
{"data": {"name": "gEnds"}, "mark": {"type": "text", "font": "Liberation Serif", "fontSize": 6.5, "color": "#333333", "baseline": "middle", "align": "center"},
 "encoding": {"x": {"field": "x", "type": "quantitative", "scale": {"domain": [0,29912], "range": [238,696]}, "axis": null},
  "y": {"datum": 81, "type": "quantitative", "scale": {"domain": [0,100], "range": [270,170]}, "axis": null}, "text": {"field": "lab", "type": "nominal"}}},
{"data": {"values": [{"a":-520,"b":31675}]}, "mark": {"type": "rule", "color": "#c6c6f2", "strokeWidth": 4},
 "encoding": {"x": {"field": "a", "type": "quantitative", "scale": {"domain": [0,29912], "range": [238,696]}, "axis": null}, "x2": {"field": "b"},
  "y": {"datum": 19, "type": "quantitative", "scale": {"domain": [0,100], "range": [270,170]}, "axis": null}}},
{"data": {"name": "genes"}, "mark": {"type": "rect", "stroke": "#8a8a8a", "strokeWidth": 0.5},
 "encoding": {"x": {"field": "start", "type": "quantitative", "scale": {"domain": [0,29912], "range": [238,696]}, "axis": null}, "x2": {"field": "end"},
  "y": {"datum": 30, "type": "quantitative", "scale": {"domain": [0,100], "range": [270,170]}, "axis": null}, "y2": {"datum": 8},
  "fill": {"field": "style", "type": "nominal", "scale": {"domain": ["utr","blue","yellow","white","green"], "range": ["#7fd07f","#4cace2","#ffff3a","#e4f3fb","#8cc870"]}, "legend": null}}},
{"data": {"name": "genes"}, "transform": [{"filter": "datum.style === 'blue' || datum.style === 'green'"}],
 "mark": {"type": "rect", "fill": {"gradient": "linear", "x1": 0, "y1": 0, "x2": 0, "y2": 1, "stops": [{"offset": 0, "color": "rgba(255,255,255,0.65)"}, {"offset": 0.45, "color": "rgba(255,255,255,0.05)"}, {"offset": 1, "color": "rgba(0,20,70,0.25)"}]}},
 "encoding": {"x": {"field": "start", "type": "quantitative", "scale": {"domain": [0,29912], "range": [238,696]}, "axis": null}, "x2": {"field": "end"},
  "y": {"datum": 30, "type": "quantitative", "scale": {"domain": [0,100], "range": [270,170]}, "axis": null}, "y2": {"datum": 8}}},
{"data": {"values": [{"x":23474}]}, "mark": {"type": "point", "shape": "M-1,0L0,-0.39L1,0L0,0.39Z", "size": 3249, "filled": true, "fill": "#f39a9a", "stroke": "#8a2020", "strokeWidth": 0.8, "opacity": 1},
 "encoding": {"x": {"field": "x", "type": "quantitative", "scale": {"domain": [0,29912], "range": [238,696]}, "axis": null},
  "y": {"datum": 19, "type": "quantitative", "scale": {"domain": [0,100], "range": [270,170]}, "axis": null}}},
{"data": {"values": [{"x":28904}]}, "mark": {"type": "point", "shape": "M-1,0L-0.5,-1.2L0.5,-1.2L1,0L0.5,1.2L-0.5,1.2Z", "size": 320, "filled": true, "fill": "#e43ad8", "stroke": "#8a1f80", "strokeWidth": 0.6, "opacity": 1},
 "encoding": {"x": {"field": "x", "type": "quantitative", "scale": {"domain": [0,29912], "range": [238,696]}, "axis": null},
  "y": {"datum": 19, "type": "quantitative", "scale": {"domain": [0,100], "range": [270,170]}, "axis": null}}},
{"data": {"name": "gLabs"}, "transform": [{"filter": "datum.pos === 'in'"}], "mark": {"type": "text", "font": "Liberation Sans", "fontWeight": "bold", "fontSize": 8, "color": "#222222", "baseline": "middle", "align": "center"},
 "encoding": {"x": {"field": "x", "type": "quantitative", "scale": {"domain": [0,29912], "range": [238,696]}, "axis": null},
  "y": {"datum": 19, "type": "quantitative", "scale": {"domain": [0,100], "range": [270,170]}, "axis": null}, "text": {"field": "lab", "type": "nominal"}}},
{"data": {"name": "gLabs"}, "transform": [{"filter": "datum.pos === 'above'"}], "mark": {"type": "text", "font": "Liberation Sans", "fontWeight": "bold", "fontSize": 7.5, "color": "#222222", "baseline": "middle", "align": "center"},
 "encoding": {"x": {"field": "x", "type": "quantitative", "scale": {"domain": [0,29912], "range": [238,696]}, "axis": null},
  "y": {"datum": 35, "type": "quantitative", "scale": {"domain": [0,100], "range": [270,170]}, "axis": null}, "text": {"field": "lab", "type": "nominal"}}},
{"data": {"name": "gLabs"}, "transform": [{"filter": "datum.pos === 'below'"}], "mark": {"type": "text", "font": "Liberation Sans", "fontWeight": "bold", "fontSize": 7.5, "color": "#222222", "baseline": "middle", "align": "center"},
 "encoding": {"x": {"field": "x", "type": "quantitative", "scale": {"domain": [0,29912], "range": [238,696]}, "axis": null},
  "y": {"datum": 2, "type": "quantitative", "scale": {"domain": [0,100], "range": [270,170]}, "axis": null}, "text": {"field": "lab", "type": "nominal"}}},
{"data": {"values": [{"x":-14760}]}, "mark": {"type": "text", "text": "A", "font": "Liberation Sans", "fontSize": 22, "color": "#111111", "baseline": "middle", "align": "center"},
 "encoding": {"x": {"field": "x", "type": "quantitative", "scale": {"domain": [0,29912], "range": [238,696]}, "axis": null},
  "y": {"datum": 255, "type": "quantitative", "scale": {"domain": [0,100], "range": [270,170]}, "axis": null}}}
]
},
{
"layer": [
{"data": {"values": [{"a":-4.3,"b":1292.2}]}, "mark": {"type": "rect", "fill": "transparent", "stroke": "#333333", "strokeWidth": 1},
 "encoding": {"x": {"field": "a", "type": "quantitative", "scale": {"domain": [0,1273], "range": [42.3,726.7]}, "axis": null}, "x2": {"field": "b"},
  "y": {"datum": 13, "type": "quantitative", "scale": {"domain": [0,240], "range": [580,340]}, "axis": null}, "y2": {"datum": 280}}},
{"data": {"name": "sReg"}, "mark": {"type": "rect", "stroke": "#777777", "strokeWidth": 0.5},
 "encoding": {"x": {"field": "start", "type": "quantitative", "scale": {"domain": [0,1273], "range": [42.3,726.7]}, "axis": null}, "x2": {"field": "end"},
  "y": {"datum": 155, "type": "quantitative", "scale": {"domain": [0,240], "range": [580,340]}, "axis": null}, "y2": {"datum": 182},
  "fill": {"field": "region", "type": "nominal", "scale": {"domain": ["SP","NTD","L1","RBD","SD","S2a","FP","S2b","HR1","CH","HR2","L2","TM","L3","E"], "range": ["#f23a3a","#9fd98a","#f23a3a","#3fd6f5","#f23a3a","#9fd98a","#2a8a4a","#9fd98a","#5858ee","#9fd98a","#5858ee","#9fd98a","#35c43c","#eef8ea","#c98f2f"]}, "legend": null}}},
{"data": {"values": [{"a":1,"b":1273}]}, "mark": {"type": "rect", "fill": {"gradient": "linear", "x1": 0, "y1": 0, "x2": 0, "y2": 1, "stops": [{"offset": 0, "color": "rgba(255,255,255,0.5)"}, {"offset": 0.4, "color": "rgba(255,255,255,0.08)"}, {"offset": 0.55, "color": "rgba(0,0,0,0.12)"}, {"offset": 0.8, "color": "rgba(0,0,0,0.04)"}, {"offset": 1, "color": "rgba(255,255,255,0.12)"}]}},
 "encoding": {"x": {"field": "a", "type": "quantitative", "scale": {"domain": [0,1273], "range": [42.3,726.7]}, "axis": null}, "x2": {"field": "b"},
  "y": {"datum": 155, "type": "quantitative", "scale": {"domain": [0,240], "range": [580,340]}, "axis": null}, "y2": {"datum": 182}}},
{"data": {"values": [{"aa":471}]}, "mark": {"type": "point", "shape": "M-1,0L-0.6,-0.6L0.6,-0.6L1,0L0.6,0.6L-0.6,0.6Z", "size": 1444, "filled": true, "fill": "#c23fd0", "stroke": "#7a2a8a", "strokeWidth": 0.7, "opacity": 1},
 "encoding": {"x": {"field": "aa", "type": "quantitative", "scale": {"domain": [0,1273], "range": [42.3,726.7]}, "axis": null},
  "y": {"datum": 168.5, "type": "quantitative", "scale": {"domain": [0,240], "range": [580,340]}, "axis": null}}},
{"data": {"values": [{"aa":471}]}, "mark": {"type": "text", "text": "RBM", "fontSize": 4.5, "fontWeight": "bold", "font": "Liberation Sans", "color": "#402050", "baseline": "middle", "align": "center"},
 "encoding": {"x": {"field": "aa", "type": "quantitative", "scale": {"domain": [0,1273], "range": [42.3,726.7]}, "axis": null},
  "y": {"datum": 168.5, "type": "quantitative", "scale": {"domain": [0,240], "range": [580,340]}, "axis": null}}},
{"data": {"name": "sDomLab"}, "mark": {"type": "text", "fontSize": 10, "fontWeight": "bold", "font": "Liberation Sans", "color": "#222222", "baseline": "middle", "align": "center"},
 "encoding": {"x": {"field": "aa", "type": "quantitative", "scale": {"domain": [0,1273], "range": [42.3,726.7]}, "axis": null},
  "y": {"datum": 168.5, "type": "quantitative", "scale": {"domain": [0,240], "range": [580,340]}, "axis": null}, "text": {"field": "lab", "type": "nominal"}}},
{"data": {"values": [{"aa":1221}]}, "mark": {"type": "text", "text": "TM", "fontSize": 10, "fontWeight": "bold", "font": "Liberation Sans", "color": "#222222", "baseline": "middle", "align": "center"},
 "encoding": {"x": {"field": "aa", "type": "quantitative", "scale": {"domain": [0,1273], "range": [42.3,726.7]}, "axis": null},
  "y": {"datum": 189, "type": "quantitative", "scale": {"domain": [0,240], "range": [580,340]}, "axis": null}}},
{"data": {"name": "fBox"}, "mark": {"type": "rect", "stroke": "#6b5010", "strokeWidth": 1, "fill": {"gradient": "linear", "x1": 0, "y1": 0, "x2": 0, "y2": 1, "stops": [{"offset": 0, "color": "#fff2a8"}, {"offset": 0.5, "color": "#f0c840"}, {"offset": 1, "color": "#c99a22"}]}},
 "encoding": {"x": {"field": "start", "type": "quantitative", "scale": {"domain": [0,1273], "range": [42.3,726.7]}, "axis": null}, "x2": {"field": "end"},
  "y": {"datum": 192, "type": "quantitative", "scale": {"domain": [0,240], "range": [580,340]}, "axis": null}, "y2": {"datum": 217}}},
{"data": {"name": "fBox"}, "mark": {"type": "text", "fontSize": 10.5, "fontWeight": "bold", "font": "Liberation Sans", "color": "#222222", "baseline": "middle", "align": "center"},
 "encoding": {"x": {"field": "mid", "type": "quantitative", "scale": {"domain": [0,1273], "range": [42.3,726.7]}, "axis": null},
  "y": {"datum": 204.5, "type": "quantitative", "scale": {"domain": [0,240], "range": [580,340]}, "axis": null}, "text": {"field": "name", "type": "nominal"}}},
{"data": {"name": "sTicks"}, "transform": [{"filter": "datum.dir === 'up'"}], "mark": {"type": "rule", "color": "#333333", "strokeWidth": 0.8},
 "encoding": {"x": {"field": "aa", "type": "quantitative", "scale": {"domain": [0,1273], "range": [42.3,726.7]}, "axis": null},
  "y": {"datum": 182, "type": "quantitative", "scale": {"domain": [0,240], "range": [580,340]}, "axis": null}, "y2": {"datum": 197}}},
{"data": {"name": "sTicks"}, "transform": [{"filter": "datum.dir === 'upF'"}], "mark": {"type": "rule", "color": "#333333", "strokeWidth": 0.8},
 "encoding": {"x": {"field": "aa", "type": "quantitative", "scale": {"domain": [0,1273], "range": [42.3,726.7]}, "axis": null},
  "y": {"datum": 182, "type": "quantitative", "scale": {"domain": [0,240], "range": [580,340]}, "axis": null}, "y2": {"datum": 192}}},
{"data": {"name": "sTicks"}, "transform": [{"filter": "datum.dir === 'down'"}], "mark": {"type": "rule", "color": "#333333", "strokeWidth": 0.8},
 "encoding": {"x": {"field": "aa", "type": "quantitative", "scale": {"domain": [0,1273], "range": [42.3,726.7]}, "axis": null},
  "y": {"datum": 155, "type": "quantitative", "scale": {"domain": [0,240], "range": [580,340]}, "axis": null}, "y2": {"datum": 141}}},
{"data": {"name": "sTicks"}, "transform": [{"filter": "datum.dir === 'downS'"}], "mark": {"type": "rule", "color": "#333333", "strokeWidth": 0.8},
 "encoding": {"x": {"field": "aa", "type": "quantitative", "scale": {"domain": [0,1273], "range": [42.3,726.7]}, "axis": null},
  "y": {"datum": 155, "type": "quantitative", "scale": {"domain": [0,240], "range": [580,340]}, "axis": null}, "y2": {"datum": 146}}},
{"data": {"name": "sNums"}, "transform": [{"filter": "datum.where === 'above'"}], "mark": {"type": "text", "fontSize": 12, "fontWeight": "bold", "font": "Liberation Sans", "color": "#1a1a1a", "baseline": "middle", "align": "center"},
 "encoding": {"x": {"field": "aa", "type": "quantitative", "scale": {"domain": [0,1273], "range": [42.3,726.7]}, "axis": null},
  "y": {"datum": 200, "type": "quantitative", "scale": {"domain": [0,240], "range": [580,340]}, "axis": null}, "text": {"field": "txt", "type": "nominal"}}},
{"data": {"name": "sNums"}, "transform": [{"filter": "datum.where === 'aboveLeft'"}], "mark": {"type": "text", "fontSize": 12, "fontWeight": "bold", "font": "Liberation Sans", "color": "#1a1a1a", "baseline": "middle", "align": "left"},
 "encoding": {"x": {"field": "aa", "type": "quantitative", "scale": {"domain": [0,1273], "range": [42.3,726.7]}, "axis": null},
  "y": {"datum": 187, "type": "quantitative", "scale": {"domain": [0,240], "range": [580,340]}, "axis": null}, "text": {"field": "txt", "type": "nominal"}}},
{"data": {"name": "sNums"}, "transform": [{"filter": "datum.where === 'below'"}], "mark": {"type": "text", "fontSize": 12, "fontWeight": "bold", "font": "Liberation Sans", "color": "#1a1a1a", "baseline": "middle", "align": "center"},
 "encoding": {"x": {"field": "aa", "type": "quantitative", "scale": {"domain": [0,1273], "range": [42.3,726.7]}, "axis": null},
  "y": {"datum": 135, "type": "quantitative", "scale": {"domain": [0,240], "range": [580,340]}, "axis": null}, "text": {"field": "txt", "type": "nominal"}}},
{"data": {"values": [{"aa":818}]}, "mark": {"type": "text", "text": "FP", "fontSize": 10, "fontWeight": "bold", "font": "Liberation Sans", "color": "#1a1a1a", "baseline": "middle", "align": "center"},
 "encoding": {"x": {"field": "aa", "type": "quantitative", "scale": {"domain": [0,1273], "range": [42.3,726.7]}, "axis": null},
  "y": {"datum": 148.3, "type": "quantitative", "scale": {"domain": [0,240], "range": [580,340]}, "axis": null}}},
{"data": {"name": "sMut"}, "mark": {"type": "rule", "color": "#333333", "strokeWidth": 0.8},
 "encoding": {"x": {"field": "site", "type": "quantitative", "scale": {"domain": [0,1273], "range": [42.3,726.7]}, "axis": null},
  "y": {"datum": 155, "type": "quantitative", "scale": {"domain": [0,240], "range": [580,340]}, "axis": null}, "y2": {"datum": 143}}},
{"data": {"name": "sMut"}, "mark": {"type": "rule", "color": "#333333", "strokeWidth": 0.8},
 "encoding": {"x": {"field": "site", "type": "quantitative", "scale": {"domain": [0,1273], "range": [42.3,726.7]}, "axis": null}, "x2": {"field": "circ"},
  "y": {"datum": 143, "type": "quantitative", "scale": {"domain": [0,240], "range": [580,340]}, "axis": null}, "y2": {"datum": 125}}},
{"data": {"name": "sMut"}, "mark": {"type": "point", "filled": true, "shape": "M-1,0A1,0.8,0,1,1,1,0A1,0.8,0,1,1,-1,0Z", "size": 240, "stroke": "#333333", "strokeWidth": 0.8, "opacity": 1},
 "encoding": {"x": {"field": "circ", "type": "quantitative", "scale": {"domain": [0,1273], "range": [42.3,726.7]}, "axis": null},
  "y": {"datum": 118, "type": "quantitative", "scale": {"domain": [0,240], "range": [580,340]}, "axis": null},
  "color": {"field": "type", "type": "nominal", "scale": {"domain": ["samesense mutation","deletion mutation","missense mutation"], "range": ["#5de07a","#f49a9a","#f6c96c"]},
   "legend": {"orient": "none", "legendX": 636, "legendY": 479, "title": null, "symbolType": "M-1,0A1,0.8,0,1,1,1,0A1,0.8,0,1,1,-1,0Z", "symbolSize": 200, "symbolStrokeColor": "#333333", "symbolStrokeWidth": 0.8, "symbolOpacity": 1, "labelFont": "DejaVu Sans Mono", "labelFontSize": 7, "labelColor": "#555555", "strokeColor": "#888888", "fillColor": "#ffffff", "padding": 4, "rowPadding": 3, "labelOffset": 6}}}},
{"data": {"name": "sMut"}, "mark": {"type": "text", "fontSize": 5.5, "font": "Liberation Sans", "color": "#d42a2a", "baseline": "middle", "align": "center"},
 "encoding": {"x": {"field": "circ", "type": "quantitative", "scale": {"domain": [0,1273], "range": [42.3,726.7]}, "axis": null},
  "y": {"datum": 118, "type": "quantitative", "scale": {"domain": [0,240], "range": [580,340]}, "axis": null}, "text": {"field": "id", "type": "nominal"}}}
]
},
{
"layer": [
{"data": {"name": "bLabs"}, "mark": {"type": "text", "fontSize": 44, "font": "Liberation Sans", "color": "#a9a9a9", "baseline": "middle", "align": "center"},
 "encoding": {"x": {"field": "pos", "type": "quantitative", "scale": {"domain": [0,3856], "range": [47.7,738]}, "axis": {"orient": "bottom", "offset": -23, "values": [0,100,200,300,400,500,600,700,800,900,1000,1100,1200,1300,1400,1500,1600,1700,1800,1900,2000,2100,2200,2300,2400,2500,2600,2700,2800,2900,3000,3100,3200,3300,3400,3500,3600,3700,3800], "labelExpr": "format(datum.value, ',')", "labelFont": "Liberation Sans", "labelFontSize": 6.2, "labelFontWeight": "bold", "labelColor": "#222222", "labelOverlap": false, "labelFlush": false, "labelPadding": 1, "tickSize": 3, "tickColor": "#000000", "domainColor": "#000000", "domainWidth": 1.2, "title": "Position", "titleFont": "Liberation Sans", "titleFontSize": 7, "titleFontWeight": "bold", "titleColor": "#222222", "titlePadding": 2, "grid": false}},
  "y": {"datum": 0.757, "type": "quantitative", "scale": {"domain": [0.5,1.0], "range": [998,646]}, "axis": {"orient": "left", "offset": -47.7, "values": [0.5,0.52,0.54,0.56,0.58,0.6,0.62,0.64,0.66,0.68,0.7,0.72,0.74,0.76,0.78,0.8,0.82,0.84,0.86,0.88,0.9,0.92,0.94,0.96,0.98,1.0], "labelExpr": "datum.value >= 0.999 ? '1.0' : format(datum.value, '.2~f')", "labelFont": "Liberation Sans", "labelFontSize": 6.2, "labelFontWeight": "bold", "labelColor": "#222222", "labelOverlap": false, "labelPadding": 2, "tickSize": 3, "tickColor": "#000000", "domainColor": "#000000", "domainWidth": 1.2, "title": "Similarity", "titleFont": "Liberation Sans", "titleFontSize": 7, "titleFontWeight": "normal", "titleColor": "#222222", "titlePadding": 4, "grid": false}},
  "text": {"field": "lab", "type": "nominal"}}},
{"data": {"name": "simB"}, "mark": {"type": "line", "interpolate": "linear"},
 "encoding": {"x": {"field": "pos", "type": "quantitative", "scale": {"domain": [0,3856], "range": [47.7,738]}, "axis": {"orient": "bottom", "offset": -23, "values": [0,100,200,300,400,500,600,700,800,900,1000,1100,1200,1300,1400,1500,1600,1700,1800,1900,2000,2100,2200,2300,2400,2500,2600,2700,2800,2900,3000,3100,3200,3300,3400,3500,3600,3700,3800], "labelExpr": "format(datum.value, ',')", "labelFont": "Liberation Sans", "labelFontSize": 6.2, "labelFontWeight": "bold", "labelColor": "#222222", "labelOverlap": false, "labelFlush": false, "labelPadding": 1, "tickSize": 3, "tickColor": "#000000", "domainColor": "#000000", "domainWidth": 1.2, "title": "Position", "titleFont": "Liberation Sans", "titleFontSize": 7, "titleFontWeight": "bold", "titleColor": "#222222", "titlePadding": 2, "grid": false}},
  "y": {"field": "sim", "type": "quantitative", "scale": {"domain": [0.5,1.0], "range": [998,646]}, "axis": {"orient": "left", "offset": -47.7, "values": [0.5,0.52,0.54,0.56,0.58,0.6,0.62,0.64,0.66,0.68,0.7,0.72,0.74,0.76,0.78,0.8,0.82,0.84,0.86,0.88,0.9,0.92,0.94,0.96,0.98,1.0], "labelExpr": "datum.value >= 0.999 ? '1.0' : format(datum.value, '.2~f')", "labelFont": "Liberation Sans", "labelFontSize": 6.2, "labelFontWeight": "bold", "labelColor": "#222222", "labelOverlap": false, "labelPadding": 2, "tickSize": 3, "tickColor": "#000000", "domainColor": "#000000", "domainWidth": 1.2, "title": "Similarity", "titleFont": "Liberation Sans", "titleFontSize": 7, "titleFontWeight": "normal", "titleColor": "#222222", "titlePadding": 4, "grid": false}},
  "color": {"field": "series", "type": "nominal", "scale": {"domain": ["SARS Family","RaTG-13","ZJ01"], "range": ["#e8262b","#1f6e50","#d6ea3a"]}, "legend": null},
  "strokeWidth": {"field": "series", "type": "nominal", "scale": {"domain": ["SARS Family","RaTG-13","ZJ01"], "range": [1.2,1.5,2]}, "legend": null},
  "detail": {"field": "seg", "type": "nominal"}}},
{"data": {"name": "bDiv"}, "mark": {"type": "rule", "color": "#000000", "strokeWidth": 2},
 "encoding": {"x": {"field": "pos", "type": "quantitative", "scale": {"domain": [0,3856], "range": [47.7,738]}, "axis": {"orient": "bottom", "offset": -23, "values": [0,100,200,300,400,500,600,700,800,900,1000,1100,1200,1300,1400,1500,1600,1700,1800,1900,2000,2100,2200,2300,2400,2500,2600,2700,2800,2900,3000,3100,3200,3300,3400,3500,3600,3700,3800], "labelExpr": "format(datum.value, ',')", "labelFont": "Liberation Sans", "labelFontSize": 6.2, "labelFontWeight": "bold", "labelColor": "#222222", "labelOverlap": false, "labelFlush": false, "labelPadding": 1, "tickSize": 3, "tickColor": "#000000", "domainColor": "#000000", "domainWidth": 1.2, "title": "Position", "titleFont": "Liberation Sans", "titleFontSize": 7, "titleFontWeight": "bold", "titleColor": "#222222", "titlePadding": 2, "grid": false}},
  "y": {"datum": 0.5, "type": "quantitative", "scale": {"domain": [0.5,1.0], "range": [998,646]}, "axis": {"orient": "left", "offset": -47.7, "values": [0.5,0.52,0.54,0.56,0.58,0.6,0.62,0.64,0.66,0.68,0.7,0.72,0.74,0.76,0.78,0.8,0.82,0.84,0.86,0.88,0.9,0.92,0.94,0.96,0.98,1.0], "labelExpr": "datum.value >= 0.999 ? '1.0' : format(datum.value, '.2~f')", "labelFont": "Liberation Sans", "labelFontSize": 6.2, "labelFontWeight": "bold", "labelColor": "#222222", "labelOverlap": false, "labelPadding": 2, "tickSize": 3, "tickColor": "#000000", "domainColor": "#000000", "domainWidth": 1.2, "title": "Similarity", "titleFont": "Liberation Sans", "titleFontSize": 7, "titleFontWeight": "normal", "titleColor": "#222222", "titlePadding": 4, "grid": false}},
  "y2": {"datum": 1.0}}},
{"data": {"values": [{"a":0,"b":3856}]}, "mark": {"type": "rule", "color": "#9a9a9a", "strokeWidth": 1.5},
 "encoding": {"x": {"field": "a", "type": "quantitative", "scale": {"domain": [0,3856], "range": [47.7,738]}, "axis": {"orient": "bottom", "offset": -23, "values": [0,100,200,300,400,500,600,700,800,900,1000,1100,1200,1300,1400,1500,1600,1700,1800,1900,2000,2100,2200,2300,2400,2500,2600,2700,2800,2900,3000,3100,3200,3300,3400,3500,3600,3700,3800], "labelExpr": "format(datum.value, ',')", "labelFont": "Liberation Sans", "labelFontSize": 6.2, "labelFontWeight": "bold", "labelColor": "#222222", "labelOverlap": false, "labelFlush": false, "labelPadding": 1, "tickSize": 3, "tickColor": "#000000", "domainColor": "#000000", "domainWidth": 1.2, "title": "Position", "titleFont": "Liberation Sans", "titleFontSize": 7, "titleFontWeight": "bold", "titleColor": "#222222", "titlePadding": 2, "grid": false}}, "x2": {"field": "b"},
  "y": {"datum": 1.0, "type": "quantitative", "scale": {"domain": [0.5,1.0], "range": [998,646]}, "axis": {"orient": "left", "offset": -47.7, "values": [0.5,0.52,0.54,0.56,0.58,0.6,0.62,0.64,0.66,0.68,0.7,0.72,0.74,0.76,0.78,0.8,0.82,0.84,0.86,0.88,0.9,0.92,0.94,0.96,0.98,1.0], "labelExpr": "datum.value >= 0.999 ? '1.0' : format(datum.value, '.2~f')", "labelFont": "Liberation Sans", "labelFontSize": 6.2, "labelFontWeight": "bold", "labelColor": "#222222", "labelOverlap": false, "labelPadding": 2, "tickSize": 3, "tickColor": "#000000", "domainColor": "#000000", "domainWidth": 1.2, "title": "Similarity", "titleFont": "Liberation Sans", "titleFontSize": 7, "titleFontWeight": "normal", "titleColor": "#222222", "titlePadding": 4, "grid": false}}}},
{"data": {"values": [{"a":3856}]}, "mark": {"type": "rule", "color": "#9a9a9a", "strokeWidth": 1.5},
 "encoding": {"x": {"field": "a", "type": "quantitative", "scale": {"domain": [0,3856], "range": [47.7,738]}, "axis": {"orient": "bottom", "offset": -23, "values": [0,100,200,300,400,500,600,700,800,900,1000,1100,1200,1300,1400,1500,1600,1700,1800,1900,2000,2100,2200,2300,2400,2500,2600,2700,2800,2900,3000,3100,3200,3300,3400,3500,3600,3700,3800], "labelExpr": "format(datum.value, ',')", "labelFont": "Liberation Sans", "labelFontSize": 6.2, "labelFontWeight": "bold", "labelColor": "#222222", "labelOverlap": false, "labelFlush": false, "labelPadding": 1, "tickSize": 3, "tickColor": "#000000", "domainColor": "#000000", "domainWidth": 1.2, "title": "Position", "titleFont": "Liberation Sans", "titleFontSize": 7, "titleFontWeight": "bold", "titleColor": "#222222", "titlePadding": 2, "grid": false}},
  "y": {"datum": 0.5, "type": "quantitative", "scale": {"domain": [0.5,1.0], "range": [998,646]}, "axis": {"orient": "left", "offset": -47.7, "values": [0.5,0.52,0.54,0.56,0.58,0.6,0.62,0.64,0.66,0.68,0.7,0.72,0.74,0.76,0.78,0.8,0.82,0.84,0.86,0.88,0.9,0.92,0.94,0.96,0.98,1.0], "labelExpr": "datum.value >= 0.999 ? '1.0' : format(datum.value, '.2~f')", "labelFont": "Liberation Sans", "labelFontSize": 6.2, "labelFontWeight": "bold", "labelColor": "#222222", "labelOverlap": false, "labelPadding": 2, "tickSize": 3, "tickColor": "#000000", "domainColor": "#000000", "domainWidth": 1.2, "title": "Similarity", "titleFont": "Liberation Sans", "titleFontSize": 7, "titleFontWeight": "normal", "titleColor": "#222222", "titlePadding": 4, "grid": false}}, "y2": {"datum": 1.0}}},
{"data": {"values": [{"a":-215}]}, "mark": {"type": "text", "text": "B", "fontSize": 27, "font": "Liberation Sans", "color": "#111111", "baseline": "middle", "align": "center"},
 "encoding": {"x": {"field": "a", "type": "quantitative", "scale": {"domain": [0,3856], "range": [47.7,738]}, "axis": {"orient": "bottom", "offset": -23, "values": [0,100,200,300,400,500,600,700,800,900,1000,1100,1200,1300,1400,1500,1600,1700,1800,1900,2000,2100,2200,2300,2400,2500,2600,2700,2800,2900,3000,3100,3200,3300,3400,3500,3600,3700,3800], "labelExpr": "format(datum.value, ',')", "labelFont": "Liberation Sans", "labelFontSize": 6.2, "labelFontWeight": "bold", "labelColor": "#222222", "labelOverlap": false, "labelFlush": false, "labelPadding": 1, "tickSize": 3, "tickColor": "#000000", "domainColor": "#000000", "domainWidth": 1.2, "title": "Position", "titleFont": "Liberation Sans", "titleFontSize": 7, "titleFontWeight": "bold", "titleColor": "#222222", "titlePadding": 2, "grid": false}},
  "y": {"datum": 1.046, "type": "quantitative", "scale": {"domain": [0.5,1.0], "range": [998,646]}, "axis": {"orient": "left", "offset": -47.7, "values": [0.5,0.52,0.54,0.56,0.58,0.6,0.62,0.64,0.66,0.68,0.7,0.72,0.74,0.76,0.78,0.8,0.82,0.84,0.86,0.88,0.9,0.92,0.94,0.96,0.98,1.0], "labelExpr": "datum.value >= 0.999 ? '1.0' : format(datum.value, '.2~f')", "labelFont": "Liberation Sans", "labelFontSize": 6.2, "labelFontWeight": "bold", "labelColor": "#222222", "labelOverlap": false, "labelPadding": 2, "tickSize": 3, "tickColor": "#000000", "domainColor": "#000000", "domainWidth": 1.2, "title": "Similarity", "titleFont": "Liberation Sans", "titleFontSize": 7, "titleFontWeight": "normal", "titleColor": "#222222", "titlePadding": 4, "grid": false}}}}
]
},
{
"layer": [
{"data": {"values": [{"a":-0.11,"b":2.89}]}, "mark": {"type": "rect", "fill": "#ffffff", "stroke": "#999999", "strokeWidth": 0.8},
 "encoding": {"x": {"field": "a", "type": "quantitative", "scale": {"domain": [0,1], "range": [65,95]}, "axis": null}, "x2": {"field": "b"},
  "y": {"datum": -0.61, "type": "quantitative", "scale": {"domain": [0,3], "range": [608.3,633]}, "axis": null}, "y2": {"datum": 3.37}}},
{"data": {"name": "bLeg"}, "mark": {"type": "rule", "strokeWidth": 1.5},
 "encoding": {"x": {"datum": 0, "type": "quantitative", "scale": {"domain": [0,1], "range": [65,95]}, "axis": null}, "x2": {"datum": 1},
  "y": {"field": "k", "type": "quantitative", "scale": {"domain": [0,3], "range": [608.3,633]}, "axis": null},
  "color": {"field": "series", "type": "nominal", "scale": {"domain": ["SARS Family","RaTG-13","ZJ01"], "range": ["#e8262b","#1f6e50","#d6ea3a"]}, "legend": null}}},
{"data": {"name": "bLeg"}, "mark": {"type": "text", "font": "DejaVu Sans Mono", "fontSize": 4.9, "color": "#222222", "align": "left", "baseline": "middle"},
 "encoding": {"x": {"datum": 1.13, "type": "quantitative", "scale": {"domain": [0,1], "range": [65,95]}, "axis": null},
  "y": {"field": "k", "type": "quantitative", "scale": {"domain": [0,3], "range": [608.3,633]}, "axis": null}, "text": {"field": "series", "type": "nominal"}}},
{"data": {"values": [{"a":0.257,"t":"Query"},{"a":1.13,"t":"SARS-CoV-2 Family"}]}, "mark": {"type": "text", "font": "DejaVu Sans Mono", "fontSize": 4.9, "color": "#222222", "align": "left", "baseline": "middle"},
 "encoding": {"x": {"field": "a", "type": "quantitative", "scale": {"domain": [0,1], "range": [65,95]}, "axis": null},
  "y": {"datum": 0, "type": "quantitative", "scale": {"domain": [0,3], "range": [608.3,633]}, "axis": null}, "text": {"field": "t", "type": "nominal"}}}
]
}
],
"resolve": {"scale": {"x": "independent", "y": "independent", "color": "independent", "fill": "independent", "strokeWidth": "independent"}}
}
